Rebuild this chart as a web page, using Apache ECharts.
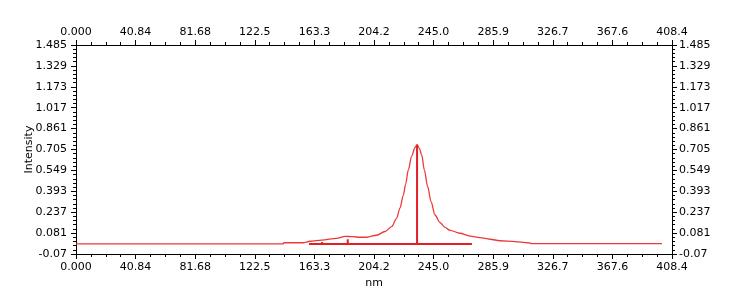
<!DOCTYPE html>
<html>
<head>
<meta charset="utf-8">
<script src="https://cdn.jsdelivr.net/npm/echarts@6/dist/echarts.min.js"></script>
<style>html,body{margin:0;padding:0;background:#fff}#c{width:747px;height:300px}</style>
</head>
<body>
<div id="c"></div>
<script>
// Spectrum curve (nm, intensity)
const curveNm = [0, 141.8, 142.5, 155.5, 160.3, 168.4, 178.6, 184.3, 189.8, 194.6, 199.2, 206.0, 211.7, 216.3, 219.7, 222.0, 224.3, 225.9, 227.7, 230.0, 232.3, 233.7, 235.2, 236.9, 238.7, 241.0, 243.3, 246.0, 249.4, 252.8, 256.3, 263.1, 270.0, 276.8, 283.7, 290.5, 300.8, 309.7, 312.5, 401.5];
const curveIntensity = [0.000, 0.000, 0.009, 0.009, 0.020, 0.029, 0.042, 0.057, 0.054, 0.050, 0.050, 0.065, 0.093, 0.129, 0.191, 0.268, 0.365, 0.447, 0.552, 0.656, 0.720, 0.741, 0.716, 0.664, 0.552, 0.427, 0.315, 0.216, 0.160, 0.123, 0.102, 0.080, 0.059, 0.047, 0.035, 0.024, 0.017, 0.009, 0.002, 0.002];
// Peak sticks (nm, intensity)
const stickNm = [159.7, 168.6, 186.2, 233.7, 271.3];
const stickIntensity = [0, 0.015, 0.035, 0.741, 0];
// Tick labels
const xTickLabels = ['0.000', '40.84', '81.68', '122.5', '163.3', '204.2', '245.0', '285.9', '326.7', '367.6', '408.4'];
const yTickLabels = ['-0.07', '0.081', '0.237', '0.393', '0.549', '0.705', '0.861', '1.017', '1.173', '1.329', '1.485'];
const xMin = 0, xMax = 408.4, xStep = 40.84;
const yMin = -0.075, yMax = 1.485, yStep = 0.156;

const curveData = curveNm.map((x, i) => [x, curveIntensity[i]]);
const stickData = [];
stickNm.forEach((x, i) => {
  stickData.push([x, 0]);
  if (stickIntensity[i] !== 0) { stickData.push([x, stickIntensity[i]]); stickData.push([x, 0]); }
});

const font = 'DejaVu Sans';
function xLab(v, i) { const k = Math.round((v - xMin) / xStep); return xTickLabels[k] !== undefined ? xTickLabels[k] : ''; }
function yLab(v, i) { const k = Math.round((v - yMin) / yStep); return yTickLabels[k] !== undefined ? yTickLabels[k] : ''; }

const axisCommon = {
  axisLine: { show: true, onZero: false, lineStyle: { color: '#000', width: 1 } },
  axisTick: { show: true, inside: false, length: 5, lineStyle: { color: '#000', width: 1 } },
  splitLine: { show: false },
  axisLabel: { color: '#000', fontFamily: font, fontSize: 11 }
};

function xAxis(pos, margin, name) {
  return Object.assign({}, axisCommon, {
    type: 'value', position: pos, min: xMin, max: xMax, interval: xStep,
    minorTick: { show: true, splitNumber: 4, length: 3, lineStyle: { color: '#000', width: 1 } },
    axisLabel: Object.assign({}, axisCommon.axisLabel, { margin: margin, formatter: xLab, showMinLabel: true, showMaxLabel: true }),
    name: name || '', nameLocation: 'middle', nameGap: 24, nameMoveOverlap: false,
    nameTextStyle: { color: '#000', fontFamily: font, fontSize: 11 }
  });
}
function yAxis(pos, margin, name) {
  return Object.assign({}, axisCommon, {
    type: 'value', position: pos, min: yMin, max: yMax, interval: yStep,
    minorTick: { show: true, splitNumber: 5, length: 3, lineStyle: { color: '#000', width: 1 } },
    axisLabel: Object.assign({}, axisCommon.axisLabel, { margin: margin, formatter: yLab, showMinLabel: true, showMaxLabel: true }),
    name: name || '', nameLocation: 'middle', nameGap: 41, nameRotate: 90, nameMoveOverlap: false,
    nameTextStyle: { color: '#000', fontFamily: font, fontSize: 11 }
  });
}

const chart = echarts.init(document.getElementById('c'), null, { renderer: 'canvas' });
chart.setOption({
  animation: false,
  backgroundColor: '#fff',
  grid: { left: 76, right: 75, top: 45, bottom: 46, containLabel: false },
  xAxis: [xAxis('bottom', 8, 'nm'), xAxis('top', 7)],
  yAxis: [yAxis('left', 9, 'Intensity'), yAxis('right', 7)],
  series: [
    { type: 'line', xAxisIndex: 0, yAxisIndex: 0, data: curveData, showSymbol: false, smooth: 0.3, smoothMonotone: 'x',
      lineStyle: { color: '#ee3838', width: 1.3 }, itemStyle: { color: '#ee3838' }, z: 2 },
    { type: 'line', xAxisIndex: 0, yAxisIndex: 0, data: stickData, showSymbol: false,
      lineStyle: { color: '#e31f26', width: 2 }, itemStyle: { color: '#e31f26' }, z: 3 }
  ]
});
</script>
</body>
</html>
